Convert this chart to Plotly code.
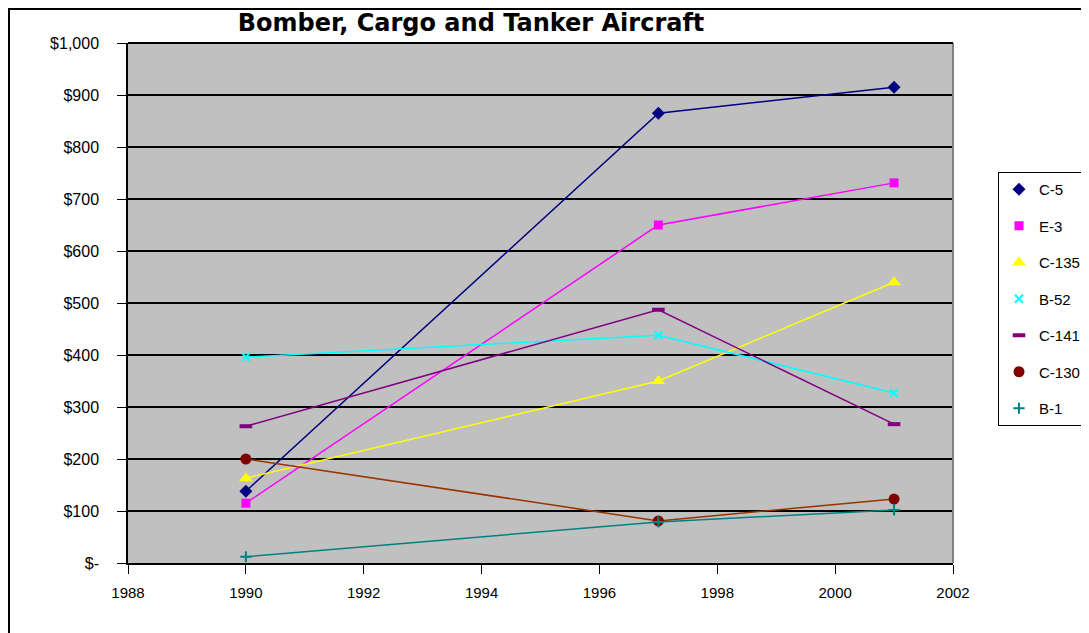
import plotly.graph_objects as go

years = [1990, 1997, 2001]
series_names = ["C-5", "E-3", "C-135", "B-52", "C-141", "C-130", "B-1"]
c5 = [138, 865, 915]
e3 = [115, 650, 731]
c135 = [163, 350, 540]
b52 = [396, 438, 327]
c141 = [263, 487, 267]
c130 = [200, 81, 123]
b1 = [12, 79, 102]
values = [c5, e3, c135, b52, c141, c130, b1]

line_colors = ["#000080", "#FF00FF", "#FFFF00", "#00FFFF", "#800080", "#993300", "#008080"]
marker_colors = ["#000080", "#FF00FF", "#FFFF00", "#00FFFF", "#800080", "#800000", "#008080"]
symbols = ["diamond", "square", "triangle-up", "x-thin-open", "line-ew-open", "circle", "cross-thin-open"]
sizes = [10, 9, 12, 8, 9, 11, 8]
mline_widths = [0, 0, 0, 2, 4, 0, 2]

y_tickvals = [0, 100, 200, 300, 400, 500, 600, 700, 800, 900, 1000]
y_ticktext = ["$-", "$100", "$200", "$300", "$400", "$500", "$600", "$700", "$800", "$900", "$1,000"]
x_tickvals = [1988, 1990, 1992, 1994, 1996, 1998, 2000, 2002]

W, H = 1081, 625
L, T, PW, PH = 120, 35, 825, 520

fig = go.Figure()
for name, vals, lc, mc, sym, sz, mw in zip(series_names, values, line_colors, marker_colors, symbols, sizes, mline_widths):
    fig.add_trace(go.Scatter(
        x=years, y=vals, mode="lines+markers", name=name, showlegend=False,
        line=dict(color=lc, width=1.5),
        marker=dict(symbol=sym, size=sz, color=mc, line=dict(color=mc, width=mw)),
    ))
for name, mc, sym, sz, mw in zip(series_names, marker_colors, symbols, sizes, mline_widths):
    fig.add_trace(go.Scatter(
        x=[None], y=[None], mode="markers", name=name, legendgroup=name,
        marker=dict(symbol=sym, size=sz, color=mc, line=dict(color=mc, width=mw)),
    ))

font_family = "Liberation Sans, Arial, sans-serif"
fig.update_layout(
    width=W, height=H,
    margin=dict(l=L, r=W - L - PW, t=T, b=H - T - PH),
    paper_bgcolor="white",
    plot_bgcolor="#C0C0C0",
    font=dict(family=font_family, size=14, color="black"),
    title=dict(text="<b>Bomber, Cargo and Tanker Aircraft</b>", x=(463 - L) / PW, xref="paper", xanchor="center",
               y=1 - 15 / H, yanchor="middle", font=dict(size=24, family="DejaVu Sans, sans-serif")),
    xaxis=dict(range=[1988, 2002], tickvals=x_tickvals, showgrid=False, showline=True, linecolor="black",
               linewidth=1.5, ticks="outside", ticklen=9, tickcolor="black", zeroline=False,
               tickfont=dict(size=15), ticklabelstandoff=6),
    yaxis=dict(range=[0, 1000], tickvals=y_tickvals, ticktext=y_ticktext, showgrid=True, gridcolor="black",
               gridwidth=2, showline=True, linecolor="black", linewidth=1.5, ticks="outside", ticklen=9,
               tickcolor="black", zeroline=False, tickfont=dict(size=16), ticklabelstandoff=15),
    legend=dict(x=990 / W, xref="container", xanchor="left", y=1 - 164 / H, yref="container",
                yanchor="top", bordercolor="black", borderwidth=1, bgcolor="white",
                font=dict(size=15), tracegroupgap=14, itemwidth=30),
    shapes=[
        dict(type="line", xref="paper", yref="paper", x0=1, x1=1, y0=0, y1=1,
             line=dict(color="#808080", width=2)),
        dict(type="line", xref="paper", yref="paper", x0=0, x1=1, y0=1, y1=1,
             line=dict(color="black", width=2)),
        dict(type="rect", xref="paper", yref="paper", x0=(1 - L) / PW, x1=1.3, y0=-0.2, y1=(T - 1) / PH + 1,
             line=dict(color="black", width=2), fillcolor="rgba(0,0,0,0)", layer="below"),
    ],
)

fig.write_html("out.html")
